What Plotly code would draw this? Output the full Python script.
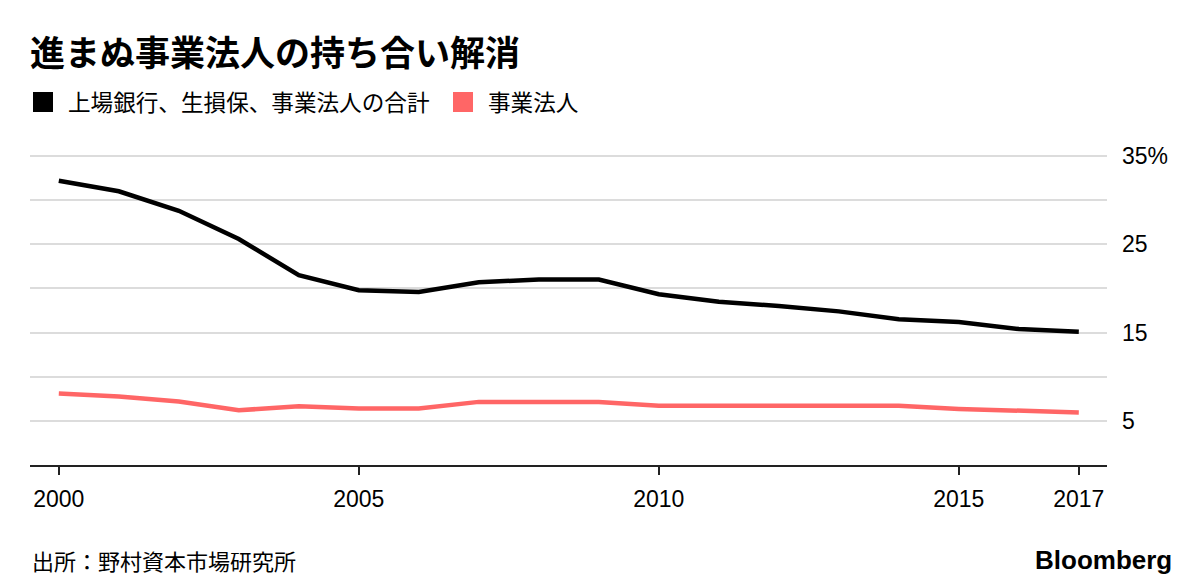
import plotly.graph_objects as go

years = list(range(2000, 2018))
total = [32.2, 31.0, 28.8, 25.6, 21.5, 19.8, 19.6, 20.7, 21.0, 21.0,
         19.35, 18.5, 18.0, 17.4, 16.5, 16.2, 15.4, 15.1]
corp = [8.1, 7.75, 7.2, 6.2, 6.65, 6.4, 6.4, 7.15, 7.15, 7.15,
        6.7, 6.7, 6.7, 6.7, 6.7, 6.35, 6.15, 5.95]

title = "進まぬ事業法人の持ち合い解消"
name_total = "上場銀行、生損保、事業法人の合計"
name_corp = "事業法人"
source = "出所：野村資本市場研究所"
x_ticks = [2000, 2005, 2010, 2015, 2017]
y_ticks = [5, 10, 15, 20, 25, 30, 35]
y_labels = ["5", "", "15", "", "25", "", "35%"]

BLACK = "#000000"
RED = "#ff6666"
FONT = "Liberation Sans, Noto Sans CJK JP, sans-serif"
JFONT = "Noto Sans CJK JP, sans-serif"

W, H = 1200, 588
L, R, T, B = 30, 1107, 152, 465
YTOP = 35 + (156 - T) / ((B - 156) / 35)


def px(x):
    return (x - L) / (R - L)


def py(y):
    return (B - y) / (B - T)


fig = go.Figure()
fig.add_trace(go.Scatter(x=years, y=total, mode="lines", name=name_total,
                         line=dict(color=BLACK, width=4.5), showlegend=False))
fig.add_trace(go.Scatter(x=years, y=corp, mode="lines", name=name_corp,
                         line=dict(color=RED, width=4.5), showlegend=False))

fig.update_layout(
    width=W, height=H,
    margin=dict(l=L, r=W - R, t=T, b=H - B),
    paper_bgcolor="white", plot_bgcolor="white",
    font=dict(family=FONT, color="#000", size=23),
    xaxis=dict(range=[1999.52, 2017.47], tickvals=x_ticks,
               ticktext=[str(v) for v in x_ticks],
               showgrid=False, zeroline=False,
               showline=True, linecolor="#222", linewidth=2,
               ticks="outside", ticklen=8, tickwidth=1.5, tickcolor="#222",
               tickfont=dict(size=23, family=FONT), ticklabelstandoff=4),
    yaxis=dict(range=[0, YTOP], tickvals=y_ticks, ticktext=y_labels,
               side="right", showgrid=True, gridcolor="#dcdcdc", gridwidth=2,
               zeroline=False, showline=False, ticks="",
               tickfont=dict(size=23, family=FONT), ticklabelstandoff=14),
)

annotations = [
    dict(text=f"<b>{title}</b>", x=px(28), y=py(51), xanchor="left", yanchor="middle",
         font=dict(size=35, family=JFONT, color="#000")),
    dict(text=name_total, x=px(66), y=py(102), xanchor="left", yanchor="middle",
         font=dict(size=22.6, family=JFONT, color="#000")),
    dict(text=name_corp, x=px(486), y=py(102), xanchor="left", yanchor="middle",
         font=dict(size=22.6, family=JFONT, color="#000")),
    dict(text=source, x=px(30), y=py(560), xanchor="left", yanchor="middle",
         font=dict(size=22, family=JFONT, color="#000")),
    dict(text="<b>Bloomberg</b>", x=px(1174), y=py(560), xanchor="right", yanchor="middle",
         font=dict(size=26, family="Liberation Sans, sans-serif", color="#000")),
]
for a in annotations:
    a.update(xref="paper", yref="paper", showarrow=False)
fig.update_layout(annotations=annotations)

fig.add_shape(type="rect", xref="paper", yref="paper",
              x0=px(33), x1=px(53), y0=py(92), y1=py(112),
              fillcolor=BLACK, line=dict(width=0))
fig.add_shape(type="rect", xref="paper", yref="paper",
              x0=px(453), x1=px(473), y0=py(92), y1=py(112),
              fillcolor=RED, line=dict(width=0))

fig.write_html("out.html", config={"displayModeBar": False},
               post_script="document.body.style.margin='0';document.body.style.overflow='hidden';")
